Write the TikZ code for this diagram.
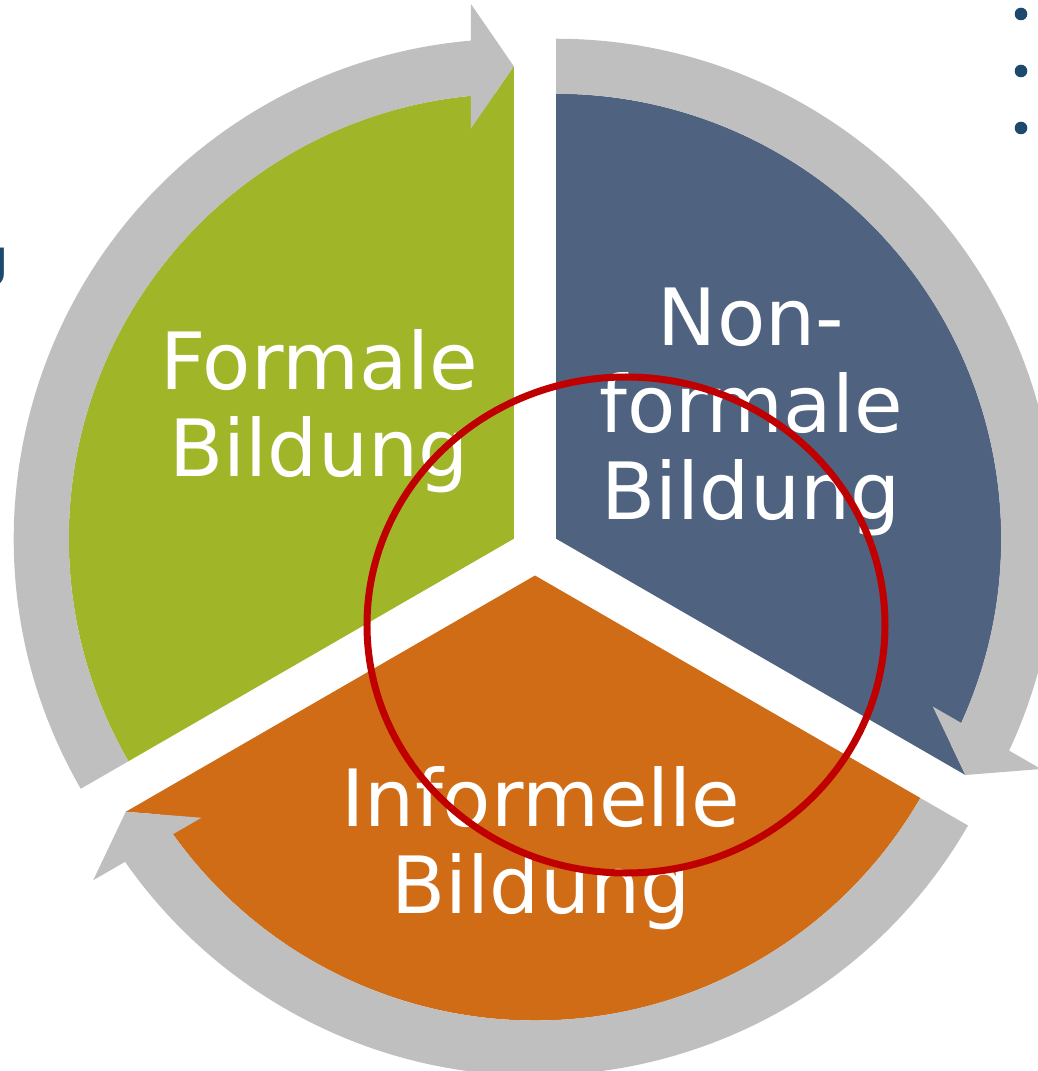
\documentclass[tikz,border=0pt]{standalone}
\usepackage{fontspec}
\setmainfont{DejaVu Sans}
\definecolor{fgreen}{HTML}{A0B628}
\definecolor{fblue}{HTML}{4F6280}
\definecolor{forange}{HTML}{D06C16}
\definecolor{fgray}{HTML}{BFBFBF}
\definecolor{fred}{HTML}{C00000}
\definecolor{slideblue}{HTML}{1D4A6C}
\newcommand\cyclepart[3]{%
  \begin{scope}[shift={#1}]
    \fill[#3] (0,0) -- (#2:472.5) -- ({#2+2.473}:445)
      arc[start angle={#2+2.473}, end angle={#2+120}, radius=445] -- cycle;
    \fill[fgray] ({#2+120}:500)
      arc[start angle={#2+120}, end angle={#2+4.933}, radius=500]
      -- ({#2+4.595}:536.73) -- (#2:472.5) -- ({#2+5.987}:412.25)
      -- ({#2+5.545}:445)
      arc[start angle={#2+5.545}, end angle={#2+120}, radius=445] -- cycle;
  \end{scope}}
\begin{document}
\begin{tikzpicture}[x=1pt,y=1pt,
  label/.style={anchor=base, inner sep=0, text=white, font=\fontsize{79}{87}\selectfont},
  bullet/.style={circle, fill=slideblue, minimum size=12.6pt, inner sep=0}]
\useasboundingbox (-535,551) rectangle (503,-520);
\cyclepart{(-21.2,12.25)}{90}{fgreen}
\cyclepart{(21.2,12.25)}{-30}{fblue}
\cyclepart{(0,-24.5)}{210}{forange}
% texts
\node[label] (f1) at (-216,161) {Formale};
\node[label] (f2) at (-216,74) {Bildung};
\node[label] (n1) at (216,205) {Non-};
\node[label] (n2) at (216,118) {formale};
\node[label] (n3) at (216,31) {Bildung};
\node[label] (i1) at (6,-275) {Informelle};
\node[label] (i2) at (6,-362) {Bildung};
% red circle
\draw[fred, line width=7pt] (91,-74) ellipse [x radius=259, y radius=248];
% slide fragments
\node[anchor=base east, inner sep=0, text=slideblue, font=\bfseries\fontsize{52}{52}\selectfont] (lg) at (-526,274) {g};
\node[bullet] (b1) at (486,537) {};
\node[bullet] (b2) at (486,480) {};
\node[bullet] (b3) at (486,423) {};
\end{tikzpicture}
\end{document}
